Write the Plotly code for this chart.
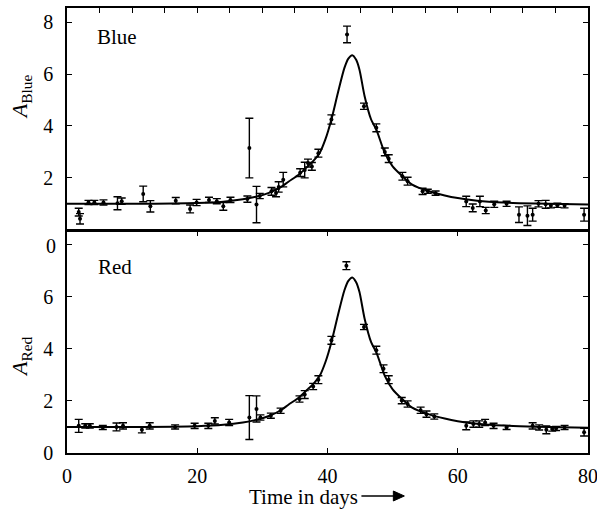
import plotly.graph_objects as go

# ---- data ----
blue_t = [1.8, 2.0, 3.3, 4.2, 5.6, 7.75, 8.4, 11.7, 12.8, 16.7, 18.9, 19.9, 21.8, 23.0, 24.0, 25.1,
          27.7, 28.0, 29.1, 29.6, 31.4, 32.1, 32.5, 33.2, 35.8, 36.5, 37.0, 37.6, 38.6, 40.6, 43.0,
          45.6, 47.5, 48.8, 49.4, 51.5, 52.3, 54.6, 55.4, 56.6, 61.3, 62.3, 63.4, 64.3, 65.6, 67.5,
          69.4, 70.7, 71.5, 72.4, 73.5, 74.3, 75.3, 76.4, 79.4]
blue_a = [0.68, 0.42, 1.05, 1.05, 1.05, 1.02, 1.10, 1.38, 0.90, 1.12, 0.80, 1.05, 1.15, 1.10, 0.90, 1.15,
          1.18, 3.15, 0.97, 1.30, 1.48, 1.42, 1.65, 1.93, 2.20, 2.30, 2.57, 2.44, 2.95, 4.25, 7.53,
          4.76, 3.93, 3.00, 2.74, 2.06, 1.87, 1.48, 1.48, 1.41, 1.09, 0.84, 1.09, 0.74, 0.98, 1.00,
          0.58, 0.54, 0.58, 1.00, 0.98, 0.92, 0.94, 0.92, 0.58]
blue_err = [0.15, 0.20, 0.08, 0.08, 0.10, 0.25, 0.12, 0.30, 0.22, 0.12, 0.15, 0.12, 0.10, 0.10, 0.15, 0.10,
            0.12, 1.15, 0.70, 0.10, 0.15, 0.15, 0.20, 0.28, 0.15, 0.30, 0.15, 0.15, 0.15, 0.18, 0.32,
            0.12, 0.15, 0.15, 0.15, 0.15, 0.15, 0.12, 0.08, 0.08, 0.20, 0.15, 0.20, 0.12, 0.12, 0.10,
            0.30, 0.38, 0.25, 0.12, 0.15, 0.08, 0.08, 0.08, 0.25]

red_t = [1.8, 2.8, 3.5, 5.5, 7.6, 8.6, 11.5, 12.7, 16.6, 19.6, 21.7, 22.7, 24.9, 28.0, 29.1, 29.7,
         31.3, 32.8, 35.7, 36.5, 37.8, 38.6, 40.6, 42.9, 45.6, 47.5, 48.6, 49.4, 51.4, 52.3, 54.3,
         55.2, 56.4, 61.3, 62.4, 63.3, 64.2, 65.5, 67.5, 71.5, 72.5, 73.6, 74.5, 75.1, 76.4, 79.4]
red_a = [1.04, 1.04, 1.04, 0.98, 1.00, 1.04, 0.89, 1.04, 1.00, 1.04, 1.04, 1.23, 1.17, 1.36, 1.69, 1.36,
         1.43, 1.62, 2.07, 2.24, 2.55, 2.81, 4.32, 7.18, 4.83, 3.94, 3.23, 2.81, 2.01, 1.88, 1.64,
         1.49, 1.40, 1.04, 1.11, 1.11, 1.17, 1.04, 0.98, 1.04, 0.98, 0.89, 0.92, 0.94, 0.98, 0.80]
red_err = [0.25, 0.08, 0.08, 0.08, 0.15, 0.12, 0.12, 0.12, 0.08, 0.10, 0.10, 0.12, 0.12, 0.84, 0.50, 0.10,
           0.10, 0.10, 0.12, 0.15, 0.12, 0.15, 0.15, 0.15, 0.10, 0.15, 0.15, 0.15, 0.12, 0.12, 0.12,
           0.12, 0.10, 0.15, 0.12, 0.12, 0.12, 0.10, 0.08, 0.12, 0.10, 0.15, 0.08, 0.08, 0.08, 0.15]

fit_t = [0, 10, 20, 24, 27, 29, 31, 32.7, 34, 35.7, 37, 38, 38.8, 39.7, 40.6, 41.6, 42.6, 43.2, 43.8,
         44.4, 44.9, 45.7, 46.7, 47.5, 48.8, 50, 51.5, 53, 55.6, 58, 60, 63, 67, 72, 80]
fit_a = [1.00, 1.00, 1.03, 1.08, 1.17, 1.27, 1.42, 1.62, 1.85, 2.15, 2.45, 2.70, 2.96, 3.50, 4.25, 5.28,
         6.24, 6.60, 6.73, 6.55, 6.18, 5.15, 4.25, 3.86, 2.96, 2.44, 2.06, 1.74, 1.48, 1.32, 1.22, 1.12,
         1.05, 1.01, 0.97]

x_ticks = [0, 20, 40, 60, 80]
top_ticks = list(range(0, 81, 5))
y_ticks = [0, 2, 4, 6, 8]

SERIF = "Liberation Serif"
FS = 20

fig = go.Figure()

def add_panel(t, a, e, xa, ya):
    fig.add_trace(go.Scatter(x=fit_t, y=fit_a, mode="lines", xaxis=xa, yaxis=ya,
                             line=dict(color="black", width=2, shape="spline", smoothing=0.8),
                             hoverinfo="skip", showlegend=False))
    fig.add_trace(go.Scatter(x=t, y=a, mode="markers", xaxis=xa, yaxis=ya,
                             marker=dict(color="black", size=4),
                             error_y=dict(type="data", array=e, visible=True, color="black",
                                          thickness=1.4, width=4),
                             showlegend=False))

add_panel(blue_t, blue_a, blue_err, "x", "y")
add_panel(red_t, red_a, red_err, "x2", "y2")

axis_common = dict(showline=True, linecolor="black", linewidth=1.6, ticks="inside", ticklen=5,
                   tickwidth=1.3, tickcolor="black", showgrid=False, zeroline=False,
                   automargin=False,
                   tickfont=dict(family=SERIF, size=FS, color="black"))

fig.update_layout(
    template="none",
    width=597, height=517,
    margin=dict(l=67, r=9, t=8, b=64, autoexpand=False),
    paper_bgcolor="white", plot_bgcolor="white",
    xaxis=dict(axis_common, domain=[0, 1], range=[0, 80], tickvals=top_ticks, showticklabels=False,
               side="top", mirror=True, anchor="y"),
    yaxis=dict(axis_common, domain=[0.5018, 1], range=[0, 8.55], tickvals=y_ticks,
               ticktext=["", "2", "4", "6", "8"], mirror="ticks", anchor="x",
               ticklabelstandoff=8),
    xaxis2=dict(axis_common, domain=[0, 1], range=[0, 80], tickvals=x_ticks, mirror="ticks",
                anchor="y2", ticklabelstandoff=4, ticklabeloverflow="allow"),
    yaxis2=dict(axis_common, domain=[0, 0.4982], range=[0, 8.5], tickvals=y_ticks,
                ticktext=["0", "2", "4", "6", ""], mirror="ticks", anchor="x2",
                ticklabelstandoff=8),
)

ann_font = dict(family=SERIF, size=21, color="black")
fig.add_annotation(text="Blue", x=4.3, y=7.45, xref="x", yref="y", xanchor="left", yanchor="middle",
                   showarrow=False, font=ann_font)
fig.add_annotation(text="Red", x=4.4, y=7.15, xref="x2", yref="y2", xanchor="left", yanchor="middle",
                   showarrow=False, font=ann_font)
# top panel zero label (sits just below the shared border)
fig.add_annotation(text="0", x=-0.017, y=0.465, xref="paper", yref="paper", xanchor="right",
                   yanchor="middle", showarrow=False, font=dict(family=SERIF, size=FS, color="black"))
# y titles
fig.add_annotation(text="<i>A</i><sub>Blue</sub>", x=-0.088, y=0.80, xref="paper", yref="paper",
                   xanchor="center", yanchor="middle",
                   textangle=-90, showarrow=False, font=dict(family=SERIF, size=22, color="black"))
fig.add_annotation(text="<i>A</i><sub>Red</sub>", x=-0.088, y=0.216, xref="paper", yref="paper",
                   xanchor="center", yanchor="middle",
                   textangle=-90, showarrow=False, font=dict(family=SERIF, size=22, color="black"))
# x title with arrow
fig.add_annotation(text="Time in days", x=0.454, y=-0.0989, xref="paper", yref="paper",
                   xanchor="center", yanchor="middle", showarrow=False, font=ann_font)
fig.add_shape(type="line", xref="paper", yref="paper", x0=0.5651, x1=0.632, y0=-0.0966, y1=-0.0966,
              line=dict(color="black", width=1.5))
fig.add_shape(type="path", xref="paper", yref="paper",
              path="M 0.6264 -0.0854 L 0.6475 -0.0966 L 0.6264 -0.1078 Z",
              fillcolor="black", line=dict(color="black", width=1))

fig.write_html("out.html", config={"displayModeBar": False},
               post_script="document.body.style.margin='0';document.body.style.overflow='hidden';")
